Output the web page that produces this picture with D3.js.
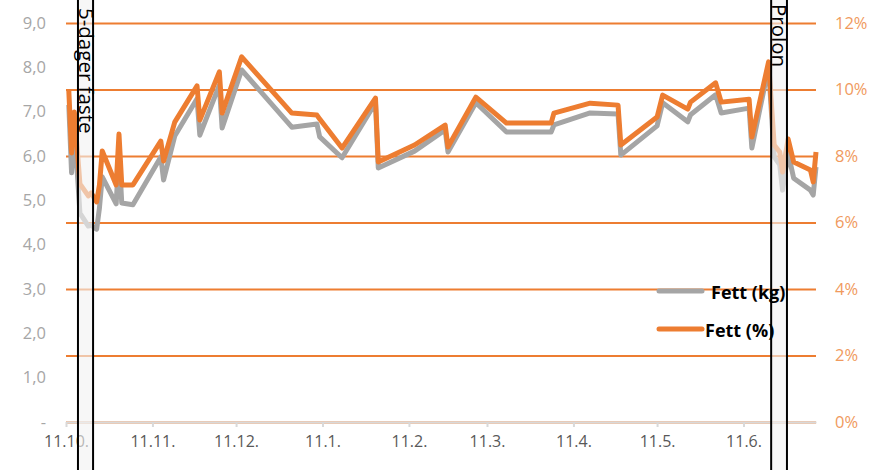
<!DOCTYPE html>
<html>
<head>
<meta charset="utf-8">
<script src="https://cdn.jsdelivr.net/npm/d3@7"></script>
<style>
  html, body { margin: 0; padding: 0; background: #fff; }
  svg { display: block; font-family: "Open Sans", sans-serif; }
</style>
</head>
<body>
<svg id="chart" width="880" height="470"></svg>
<script>
// ---- data ----
const dates = [
  "2020-10-12","2020-10-13","2020-10-14","2020-10-16","2020-10-19","2020-10-20","2020-10-22","2020-10-23","2020-10-24",
  "2020-10-29","2020-10-30","2020-10-31","2020-11-04","2020-11-14","2020-11-15","2020-11-19","2020-11-27","2020-11-28",
  "2020-12-05","2020-12-06","2020-12-13","2020-12-31","2021-01-09","2021-01-10","2021-01-18","2021-01-30","2021-01-31",
  "2021-02-13","2021-02-24","2021-02-25","2021-03-07","2021-03-18","2021-04-03","2021-04-04","2021-04-17","2021-04-27",
  "2021-04-28","2021-05-11","2021-05-13","2021-05-22","2021-05-23","2021-06-01","2021-06-03","2021-06-13","2021-06-14",
  "2021-06-20","2021-06-22","2021-06-24","2021-06-25","2021-06-27","2021-06-29","2021-07-05","2021-07-06","2021-07-07"
];
const fettKg = [
  7.15,5.62,6.63,4.71,4.42,4.44,4.35,4.83,5.53,
  4.92,6.09,4.94,4.90,5.98,5.46,6.45,7.29,6.47,
  7.60,6.63,7.94,6.65,6.72,6.43,5.96,7.20,5.73,
  6.11,6.59,6.09,7.20,6.54,6.54,6.70,6.97,6.95,
  6.02,6.68,7.20,6.77,6.93,7.38,6.97,7.08,6.18,
  8.01,5.98,5.80,5.23,6.07,5.50,5.23,5.12,5.75
];
const fettPct = [
  9.98,8.09,9.32,7.16,6.80,6.89,6.62,7.13,8.15,
  7.13,8.66,7.13,7.13,8.45,7.85,9.02,10.11,9.08,
  10.53,9.29,10.98,9.29,9.23,9.11,8.24,9.74,7.82,
  8.33,8.93,8.27,9.77,8.99,8.99,9.29,9.59,9.53,
  8.33,9.17,9.83,9.41,9.62,10.20,9.62,9.71,8.57,
  10.83,8.33,8.12,7.52,8.51,7.82,7.58,7.22,8.12
];
const xDomain = ["2020-10-11", "2021-07-07"];
const xTickDates = ["2020-10-11","2020-11-11","2020-12-11","2021-01-11","2021-02-11","2021-03-11","2021-04-11","2021-05-11","2021-06-11"];
const leftTicks = [0,1,2,3,4,5,6,7,8,9];
const rightTicks = [0,2,4,6,8,10,12];
const bandLabels = ["5-dager faste", "Prolon"];
const bandStarts = ["2020-10-15T07:00", "2021-06-20T22:00"];
const bandEnds = ["2020-10-20T17:00", "2021-06-26T14:00"];
const seriesNames = ["Fett (kg)", "Fett (%)"];

// ---- setup ----
const parse = s => new Date(s.length === 10 ? s + "T00:00" : s);
const W = 880, H = 470;
const m = { left: 66, right: 816, top: 23, bottom: 422 };
const svg = d3.select("#chart");

const x = d3.scaleTime().domain(xDomain.map(parse)).range([m.left, m.right]);
const yL = d3.scaleLinear().domain([0, 9]).range([m.bottom, m.top]);
const yR = d3.scaleLinear().domain([0, 12]).range([m.bottom, m.top]);

const orange = "#ED7D31", grey = "#A5A5A5";

// gridlines (right axis)
const grid = d3.axisRight(yR).tickValues(rightTicks).tickSize(m.right - m.left).tickFormat("");
svg.append("g").attr("transform", `translate(${m.left},0)`).call(grid)
  .call(g => g.select(".domain").remove())
  .call(g => g.selectAll("line").attr("stroke", orange).attr("stroke-width", 2));

// x axis
const fmt = d => d.getDate() + "." + (d.getMonth() + 1) + ".";
const xAxis = d3.axisBottom(x).tickValues(xTickDates.map(parse)).tickSize(5).tickSizeOuter(0).tickPadding(9).tickFormat(fmt);
svg.append("g").attr("transform", `translate(0,${m.bottom})`).call(xAxis)
  .call(g => g.select(".domain").attr("stroke", "#D9D9D9").attr("stroke-width", 2))
  .call(g => g.selectAll("line").attr("stroke", "#D9D9D9").attr("stroke-width", 2))
  .call(g => g.selectAll("text").attr("fill", "#595959").attr("font-size", 16).attr("font-family", "Open Sans"));

// left axis
const lAxis = d3.axisLeft(yL).tickValues(leftTicks).tickSize(0).tickPadding(20)
  .tickFormat(d => d === 0 ? "-" : d.toFixed(1).replace(".", ","));
svg.append("g").attr("transform", `translate(${m.left},0)`).call(lAxis)
  .call(g => g.select(".domain").remove())
  .call(g => g.selectAll("text").attr("fill", "#A6A6A6").attr("font-size", 16.5).attr("font-family", "Open Sans"));

// right axis
const rAxis = d3.axisRight(yR).tickValues(rightTicks).tickSize(0).tickPadding(19).tickFormat(d => d + "%");
svg.append("g").attr("transform", `translate(${m.right},0)`).call(rAxis)
  .call(g => g.select(".domain").remove())
  .call(g => g.selectAll("text").attr("fill", "#F09A5E").attr("font-size", 16.5).attr("font-family", "Open Sans"));

// lines
const pts = dates.map((d, i) => ({ date: parse(d), kg: fettKg[i], pct: fettPct[i] }));
const lineKg = d3.line().x(d => x(d.date)).y(d => yL(d.kg));
const linePct = d3.line().x(d => x(d.date)).y(d => yR(d.pct));
svg.append("path").datum(pts).attr("d", lineKg).attr("fill", "none").attr("stroke", grey)
  .attr("stroke-width", 5).attr("stroke-linejoin", "round");
svg.append("path").datum(pts).attr("d", linePct).attr("fill", "none").attr("stroke", orange)
  .attr("stroke-width", 5).attr("stroke-linejoin", "round");

// annotation bands
const bands = bandLabels.map((l, i) => ({ label: l, s: parse(bandStarts[i]), e: parse(bandEnds[i]) }));
const bg = svg.append("g").selectAll("g").data(bands).join("g");
bg.append("rect").attr("x", d => x(d.s)).attr("width", d => x(d.e) - x(d.s))
  .attr("y", 0).attr("height", H).attr("fill", "#F2F2F2").attr("opacity", 0.62);
bg.append("line").attr("x1", d => x(d.s)).attr("x2", d => x(d.s)).attr("y1", 0).attr("y2", H)
  .attr("stroke", "#000").attr("stroke-width", 2);
bg.append("line").attr("x1", d => x(d.e)).attr("x2", d => x(d.e)).attr("y1", 0).attr("y2", H)
  .attr("stroke", "#000").attr("stroke-width", 2);
bg.append("text")
  .attr("transform", (d, i) => `translate(${(x(d.s) + x(d.e)) / 2 + 1},${i === 0 ? 8 : 4}) rotate(90)`)
  .attr("dominant-baseline", "central")
  .attr("font-size", 20.5).attr("fill", "#000").attr("font-family", "Open Sans")
  .text(d => d.label);

// legend
const legend = svg.append("g");
const legColors = [grey, orange];
const legY = [291, 329];
const legTextX = [711, 705];
seriesNames.forEach((n, i) => {
  legend.append("line").attr("x1", 659).attr("x2", 702).attr("y1", legY[i]).attr("y2", legY[i])
    .attr("stroke", legColors[i]).attr("stroke-width", 5).attr("stroke-linecap", "round");
  legend.append("text").attr("x", legTextX[i]).attr("y", legY[i] + 1).attr("dominant-baseline", "central")
    .attr("font-weight", "bold").attr("font-size", 18).attr("fill", "#000").attr("font-family", "Open Sans")
    .text(n);
});
</script>
</body>
</html>
